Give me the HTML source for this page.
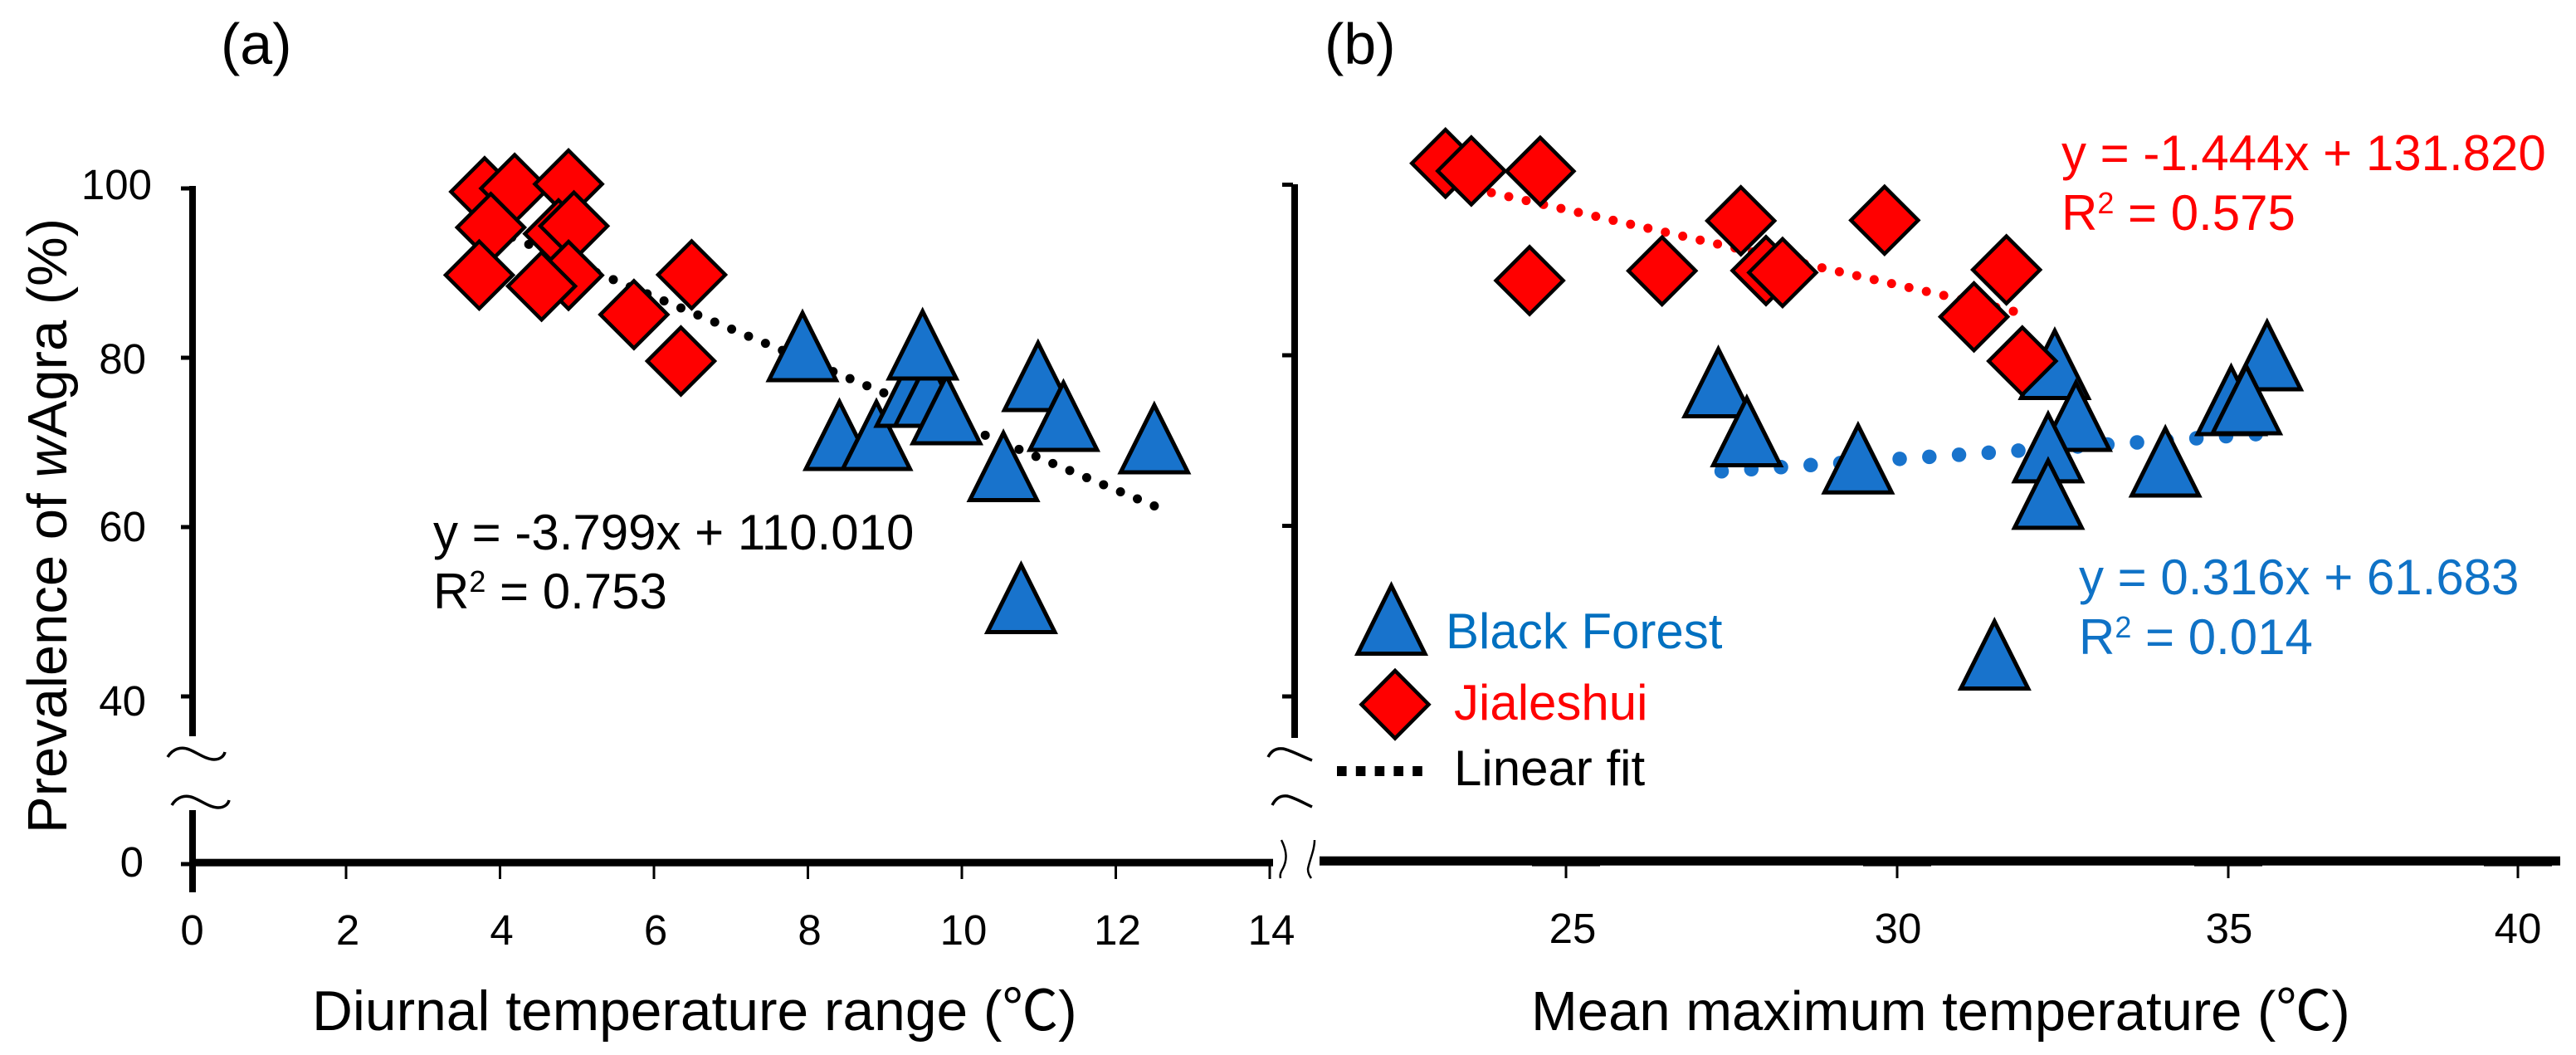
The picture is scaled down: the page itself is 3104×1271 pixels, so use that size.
<!DOCTYPE html>
<html lang="en">
<head>
<meta charset="utf-8">
<title>Prevalence of wAgra vs temperature</title>
<style>
  html, body { margin: 0; padding: 0; background: #fff; }
  svg { display: block; font-family: "Liberation Sans", "Noto Sans CJK SC", sans-serif; }
</style>
</head>
<body>
<svg id="chart" xmlns="http://www.w3.org/2000/svg" width="3104" height="1271" viewBox="0 0 3104 1271">
  <rect width="3104" height="1271" fill="#fff"/>

  <text x="266" y="77" font-size="70">(a)</text>
  <text x="1596" y="77" font-size="70">(b)</text>

  <g id="axes">
    <rect x="228" y="224" width="8" height="663"/>
    <rect x="228" y="976" width="8" height="99"/>
    <rect x="228" y="1034.7" width="1306" height="9"/>
    <rect x="1556" y="222" width="8" height="667"/>
    <rect x="1590" y="1031.7" width="1495" height="11"/>
    <g fill="none" stroke="#000" stroke-width="3.5">
      <path d="M202 912C208 902 218 899 228 903C238 907 248 915 258 915C265 915 270 911 271 906"/>
      <path d="M207 970C213 960 223 957 233 961C243 965 253 973 263 973C270 973 275 969 276 964"/>
      <path d="M1528 912C1532 904 1538 901 1546 902C1556 904 1570 912 1581 916"/>
      <path d="M1533 970C1537 962 1543 958 1551 959C1560 961 1572 968 1581 972"/>
    </g>
    <g fill="none" stroke="#000" stroke-width="2.5">
      <path d="M1544 1012C1551 1026 1551 1036 1546 1046C1543 1051 1542 1054 1543 1058"/>
      <path d="M1584 1012C1584 1024 1578 1036 1576 1047C1576 1052 1578 1055 1580 1058"/>
    </g>
  </g>

  <g id="ticks"></g>
  <g id="fits"></g>
  <g id="marks"></g>

  <text transform="translate(80 1004) rotate(-90)" font-size="67">Prevalence of <tspan font-style="italic">w</tspan>Agra (%)</text>
  <text x="376" y="1241" font-size="67.7">Diurnal temperature range (℃)</text>
  <text x="1845" y="1241" font-size="67">Mean maximum temperature (℃)</text>

  <g font-size="60" fill="#000">
    <text x="522" y="662">y = -3.799x + 110.010</text>
    <text x="522" y="733">R<tspan font-size="36" dy="-20">2</tspan><tspan dy="20"> = 0.753</tspan></text>
  </g>
  <g font-size="60" fill="#ff0000">
    <text x="2484" y="205">y = -1.444x + 131.820</text>
    <text x="2484" y="277">R<tspan font-size="36" dy="-20">2</tspan><tspan dy="20"> = 0.575</tspan></text>
  </g>
  <g font-size="60" fill="#0f72c6">
    <text x="2505" y="716">y = 0.316x + 61.683</text>
    <text x="2505" y="788">R<tspan font-size="36" dy="-20">2</tspan><tspan dy="20"> = 0.014</tspan></text>
  </g>

  <g>
    <polygon points="1676.5,705.6 1717,787.5 1636,787.5" fill="#1873cc" stroke="#000" stroke-width="5" stroke-linejoin="miter"/>
    <text x="1742" y="781" font-size="60" fill="#0070c0">Black Forest</text>
    <polygon points="1681,808 1721.5,848.7 1681,889.5 1640.5,848.7" fill="#ff0000" stroke="#000" stroke-width="4.5"/>
    <text x="1752" y="867" font-size="60" fill="#ff0000">Jialeshui</text>
    <line x1="1611" y1="929" x2="1714" y2="929" stroke="#000" stroke-width="12" stroke-dasharray="11.6 11.2"/>
    <text x="1752" y="946" font-size="60" fill="#000">Linear fit</text>
  </g>
</svg>

<script>
// ---- Panel (a) data: diurnal temperature range vs prevalence ----
const aTriangleX = [8.41, 7.93, 8.89, 9.33, 9.57, 9.80, 9.49, 10.99, 11.32, 12.50, 10.54, 10.77];
const aTriangleY = [70.98, 81.47, 70.98, 76.08, 76.08, 74.02, 81.67, 77.94, 73.24, 70.59, 67.30, 51.72];
const aDiamondX = [3.80, 4.19, 4.89, 4.76, 3.88, 4.96, 4.89, 3.73, 4.54, 6.49, 5.74, 6.35];
const aDiamondY = [99.61, 100.00, 100.52, 94.64, 95.39, 95.56, 89.74, 89.77, 88.46, 89.80, 85.10, 79.61];
const aFitX = [12.5, 3.9];
const aFitY = [62.5, 95.2];

// ---- Panel (b) data: mean maximum temperature vs prevalence ----
const bTriangleX = [27.30, 27.73, 29.41, 32.38, 32.70, 32.28, 32.28, 34.05, 35.67, 35.05, 35.31, 31.47];
const bTriangleY = [76.93, 71.19, 68.00, 79.08, 72.99, 69.31, 63.86, 67.64, 80.10, 74.84, 74.94, 45.01];
const bDiamondX = [23.18, 23.57, 24.61, 24.45, 26.45, 28.02, 28.27, 27.64, 29.81, 31.65, 31.16, 31.89];
const bDiamondY = [102.51, 101.61, 101.58, 88.76, 89.90, 89.93, 89.70, 95.77, 95.83, 90.02, 84.51, 79.32];
const bRedFitX = [23.61, 31.87];
const bRedFitY = [99.53, 84.96];
const bBlueFitX = [27.35, 35.48];
const bBlueFitY = [66.40, 70.75];

// ---- Tick labels ----
const aXTicks = [0, 2, 4, 6, 8, 10, 12, 14];
const bXTicks = [25, 30, 35, 40];
const aYTicks = [100, 80, 60, 40, 0];
const bYTicks = [100, 80, 60, 40];

// ---- Axis functions ----
function xA(v) { return 231.5 + v * 92.75; }
function yA(v) { return v >= 40 ? 227 + (100 - v) * 10.2 : 1041 - (v / 40) * 202; }
function xB(v) { return v <= 35 ? 1887 + (v - 25) * 79.8 : 2685 + (v - 35) * 69.8; }
function yB(v) { return 222.5 + (100 - v) * 10.275; }

const NS = 'http://www.w3.org/2000/svg';
const tickLayer = document.getElementById('ticks');
const fitLayer = document.getElementById('fits');
const markLayer = document.getElementById('marks');

function make(tag, parent, attrs) {
  const el = document.createElementNS(NS, tag);
  for (const k in attrs) el.setAttribute(k, attrs[k]);
  parent.appendChild(el);
  return el;
}

function triangle(cx, cy) {
  const el = make('polygon', markLayer, {
    points: cx + ',' + (cy - 38.9) + ' ' + (cx + 40.5) + ',' + (cy + 42) + ' ' + (cx - 40.5) + ',' + (cy + 42),
    fill: '#1873cc', stroke: '#000', 'stroke-width': 5, 'stroke-linejoin': 'miter'
  });
  
  
}

function diamond(cx, cy) {
  const h = 40.5;
  const el = make('polygon', markLayer, {
    points: cx + ',' + (cy - h) + ' ' + (cx + h) + ',' + cy + ' ' + cx + ',' + (cy + h) + ' ' + (cx - h) + ',' + cy,
    fill: '#ff0000', stroke: '#000', 'stroke-width': 4.5
  });
  
  
}

function fitLine(x1, y1, x2, y2, color, width, step, name) {
  const el = make('line', fitLayer, {
    x1: x1, y1: y1, x2: x2, y2: y2, stroke: color, 'stroke-width': width,
    'stroke-linecap': 'round', 'stroke-dasharray': '0 ' + step
  });
  
  
}

// ---- Fit lines ----
fitLine(xA(aFitX[0]), yA(aFitY[0]), xA(aFitX[1]), yA(aFitY[1]), '#000', 11, 22.08, 'panel-a-fit-line');
fitLine(xB(bRedFitX[0]), yB(bRedFitY[0]), xB(bRedFitX[1]), yB(bRedFitY[1]), '#ff0000', 11, 21.5, 'jialeshui-fit-line');
fitLine(xB(bBlueFitX[0]), yB(bBlueFitY[0]), xB(bBlueFitX[1]), yB(bBlueFitY[1]), '#1873cc', 17.5, 35.84, 'black-forest-fit-line');

// ---- Markers ----
aDiamondX.forEach(function (v, i) { diamond(xA(v), yA(aDiamondY[i])); });
aTriangleX.forEach(function (v, i) { triangle(xA(v), yA(aTriangleY[i])); });
bTriangleX.forEach(function (v, i) { triangle(xB(v), yB(bTriangleY[i])); });
bDiamondX.forEach(function (v, i) { diamond(xB(v), yB(bDiamondY[i])); });

// ---- Ticks and tick labels ----
const aYLabelNudge = [13, 19, 17, 23, 15];
const bXLabelNudge = [8, 1, 1, 0];

aYTicks.forEach(function (v, i) {
  const t = make('rect', tickLayer, { x: 218, y: yA(v) - 2.5, width: 12, height: 5 });
  
  
  const l = make('text', tickLayer, { x: v === 100 ? 183 : (v === 0 ? 173 : 176), y: yA(v) + aYLabelNudge[i], 'font-size': 51, 'text-anchor': 'end' });
  l.textContent = v;
  
  
});
bYTicks.forEach(function (v) {
  const t = make('rect', tickLayer, { x: 1545, y: yB(v) - 2.5, width: 13, height: 5 });
  
  
});
aXTicks.forEach(function (v) {
  if (v > 0) {
    const t = make('rect', tickLayer, { x: xA(v) - 1.5, y: 1041, width: 3, height: 18 });
    
    
  }
  const l = make('text', tickLayer, { x: xA(v) + (v > 0 ? 2 : 0), y: 1138, 'font-size': 51, 'text-anchor': 'middle' });
  l.textContent = v;
  
  
});
bXTicks.forEach(function (v, i) {
  const p = make('rect', tickLayer, { x: xB(v) - 41, y: 1032, width: 82, height: 11.6 });
  
  
  const t = make('rect', tickLayer, { x: xB(v) - 1.5, y: 1041, width: 3, height: 17 });
  
  
  const l = make('text', tickLayer, { x: xB(v) + bXLabelNudge[i], y: 1136, 'font-size': 51, 'text-anchor': 'middle' });
  l.textContent = v;
  
  
});
</script>
</body>
</html>
